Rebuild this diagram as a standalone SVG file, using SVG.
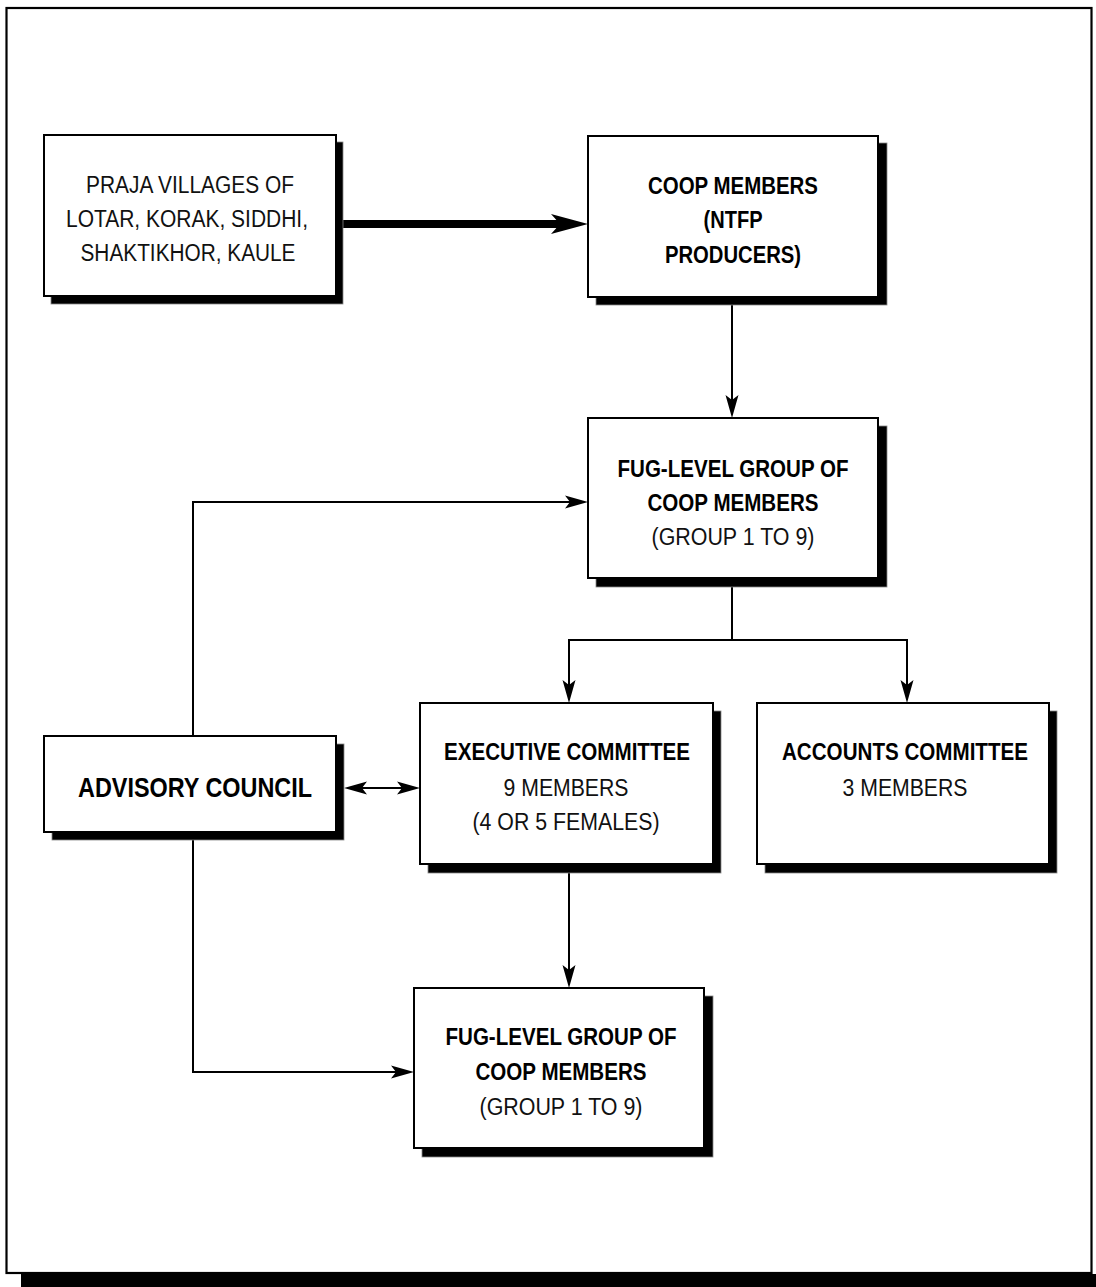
<svg xmlns="http://www.w3.org/2000/svg" width="1096" height="1287" viewBox="0 0 1096 1287">
<style>
.box{fill:#fff;stroke:#000;stroke-width:2}
.sh{fill:#000;stroke:#888;stroke-width:0.8}
.t{font-family:"Liberation Sans",Arial,sans-serif;font-size:23.5px;fill:#111;text-anchor:middle}
.b{font-weight:bold;fill:#000}
.big{font-size:28.5px}
.ln{fill:none;stroke:#000;stroke-width:2}
.thick{fill:none;stroke:#000;stroke-width:8}
</style>
<defs>
<marker id="ah" viewBox="-17 -7 24 14" refX="0" refY="0" markerWidth="24" markerHeight="14" markerUnits="userSpaceOnUse" orient="auto-start-reverse">
<path d="M6,0 L-17,-6.5 L-12,0 L-17,6.5 Z" fill="#000"/>
</marker>
<marker id="ahb" viewBox="-10 -11 40 22" refX="0" refY="0" markerWidth="40" markerHeight="22" markerUnits="userSpaceOnUse" orient="auto">
<path d="M28,0 L-9,-10 L0,0 L-9,10 Z" fill="#000"/>
</marker>
</defs>
<rect x="0" y="0" width="1096" height="1287" fill="#fff"/>
<g id="frame">
<rect x="21" y="1274" width="1090" height="20" fill="#000"/>
<rect x="6.5" y="8" width="1085" height="1265" fill="#fff" stroke="#000" stroke-width="2.2"/>
</g>
<g id="connectors">
<path class="thick" d="M343,224 H560" marker-end="url(#ahb)"/>
<path class="ln" d="M732,305 V412" marker-end="url(#ah)"/>
<path class="ln" d="M732,587 V640 H569 V697" marker-end="url(#ah)"/>
<path class="ln" d="M732,640 H907 V697" marker-end="url(#ah)"/>
<path class="ln" d="M193,736 V502 H582" marker-end="url(#ah)"/>
<path class="ln" d="M193,840 V1072 H408" marker-end="url(#ah)"/>
<path class="ln" d="M569,873 V982" marker-end="url(#ah)"/>
<path class="ln" d="M350,788 H414" marker-start="url(#ah)" marker-end="url(#ah)"/>
</g>
<g id="praja">
<rect class="sh" x="51" y="142" width="292" height="162"/>
<rect class="box" x="44" y="135" width="292" height="161"/>
<text class="t" x="190" y="193" textLength="208" lengthAdjust="spacingAndGlyphs">PRAJA VILLAGES OF</text>
<text class="t" x="187" y="227" textLength="242" lengthAdjust="spacingAndGlyphs">LOTAR, KORAK, SIDDHI,</text>
<text class="t" x="188" y="261" textLength="215" lengthAdjust="spacingAndGlyphs">SHAKTIKHOR, KAULE</text>
</g>
<g id="coop">
<rect class="sh" x="596" y="143" width="291" height="162"/>
<rect class="box" x="588" y="136" width="290" height="161"/>
<text class="t b" x="733" y="194" textLength="170" lengthAdjust="spacingAndGlyphs">COOP MEMBERS</text>
<text class="t b" x="733" y="228" textLength="59" lengthAdjust="spacingAndGlyphs">(NTFP</text>
<text class="t b" x="733" y="263" textLength="136" lengthAdjust="spacingAndGlyphs">PRODUCERS)</text>
</g>
<g id="fug1">
<rect class="sh" x="596" y="426" width="291" height="161"/>
<rect class="box" x="588" y="418" width="290" height="160"/>
<text class="t b" x="733" y="477" textLength="231" lengthAdjust="spacingAndGlyphs">FUG-LEVEL GROUP OF</text>
<text class="t b" x="733" y="511" textLength="171" lengthAdjust="spacingAndGlyphs">COOP MEMBERS</text>
<text class="t" x="733" y="545" textLength="163" lengthAdjust="spacingAndGlyphs">(GROUP 1 TO 9)</text>
</g>
<g id="exec">
<rect class="sh" x="428" y="711" width="293" height="162"/>
<rect class="box" x="420" y="703" width="293" height="161"/>
<text class="t b" x="567" y="760" textLength="246" lengthAdjust="spacingAndGlyphs">EXECUTIVE COMMITTEE</text>
<text class="t" x="566" y="796" textLength="125" lengthAdjust="spacingAndGlyphs">9 MEMBERS</text>
<text class="t" x="566" y="830" textLength="187" lengthAdjust="spacingAndGlyphs">(4 OR 5 FEMALES)</text>
</g>
<g id="accounts">
<rect class="sh" x="765" y="711" width="292" height="162"/>
<rect class="box" x="757" y="703" width="292" height="161"/>
<text class="t b" x="905" y="760" textLength="246" lengthAdjust="spacingAndGlyphs">ACCOUNTS COMMITTEE</text>
<text class="t" x="905" y="796" textLength="125" lengthAdjust="spacingAndGlyphs">3 MEMBERS</text>
</g>
<g id="advisory">
<rect class="sh" x="52" y="744" width="292" height="96"/>
<rect class="box" x="44" y="736" width="292" height="96"/>
<text class="t b big" x="195" y="797" textLength="234" lengthAdjust="spacingAndGlyphs">ADVISORY COUNCIL</text>
</g>
<g id="fug2">
<rect class="sh" x="422" y="996" width="291" height="161"/>
<rect class="box" x="414" y="988" width="290" height="160"/>
<text class="t b" x="561" y="1045" textLength="231" lengthAdjust="spacingAndGlyphs">FUG-LEVEL GROUP OF</text>
<text class="t b" x="561" y="1080" textLength="171" lengthAdjust="spacingAndGlyphs">COOP MEMBERS</text>
<text class="t" x="561" y="1115" textLength="163" lengthAdjust="spacingAndGlyphs">(GROUP 1 TO 9)</text>
</g>
</svg>
